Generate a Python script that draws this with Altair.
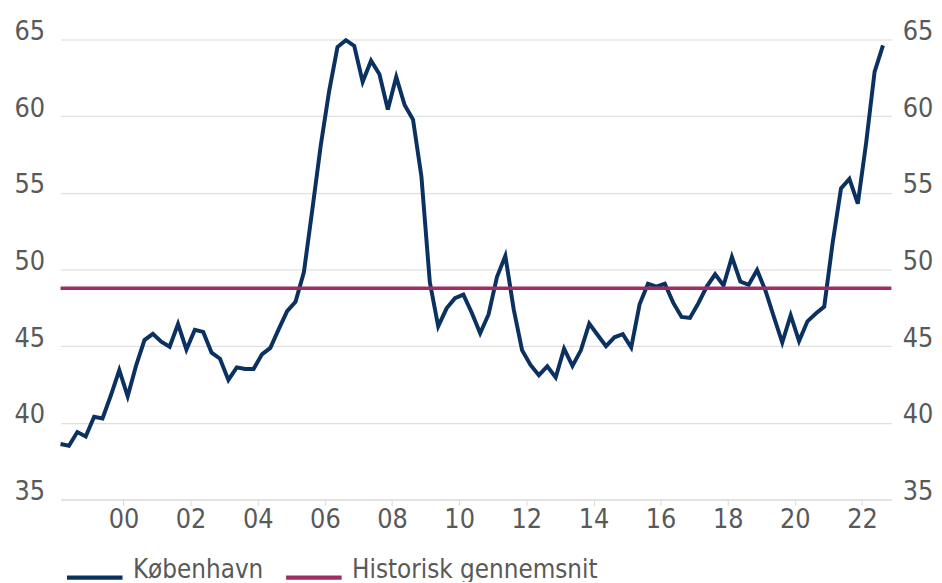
import altair as alt
import pandas as pd

# Quarterly series, first observation 1998 Q1, last 2022 Q3
start_year = 1998
values = [
    38.62, 38.51, 39.40, 39.11, 40.40, 40.29, 41.80, 43.44, 41.73, 43.73,
    45.40, 45.80, 45.29, 44.96, 46.44, 44.78, 46.07, 45.93, 44.58, 44.18,
    42.80, 43.62, 43.51, 43.51, 44.47, 44.89, 46.11, 47.29, 47.89, 49.84,
    53.90, 58.07, 61.62, 64.51, 64.96, 64.58, 62.24, 63.62, 62.73, 60.44,
    62.56, 60.73, 59.78, 56.07, 49.18, 46.29, 47.47, 48.13, 48.36, 47.18,
    45.84, 47.07, 49.51, 50.89, 47.40, 44.73, 43.78, 43.11, 43.69, 42.96,
    44.84, 43.71, 44.73, 46.47, 45.73, 45.00, 45.58, 45.78, 44.91, 47.73,
    49.07, 48.89, 49.07, 47.84, 46.91, 46.84, 47.80, 48.89, 49.69, 48.96,
    50.82, 49.22, 49.00, 49.96, 48.62, 46.91, 45.24, 47.02, 45.33, 46.62,
    47.13, 47.58, 51.73, 55.29, 55.91, 54.29, 58.29, 62.89, 64.62,
]
hist_avg = 48.78
x_ticks = list(range(2000, 2023, 2))
y_ticks = [35, 40, 45, 50, 55, 60, 65]
x_domain = [1998.125, 2022.875]
y_domain = [35, 65]
series_names = ["København", "Historisk gennemsnit"]
series_colors = ["#0B3161", "#9B2F64"]

n = len(values)
df = pd.DataFrame({
    "year": [start_year + i // 4 for i in range(n)],
    "q": [i % 4 + 1 for i in range(n)],
    "value": values,
})
df["t"] = df["year"] + (df["q"] - 0.5) / 4
df["series"] = series_names[0]

df_avg = pd.DataFrame({"value": [hist_avg], "series": [series_names[1]]})

FONT = "DejaVu Sans Condensed, Liberation Sans Narrow, Roboto, sans-serif"
LABEL = "#595959"
GRID = "#D9D9D9"

x_scale = alt.Scale(domain=x_domain, nice=False, zero=False)
y_scale = alt.Scale(domain=y_domain, nice=False, zero=False)
color_scale = alt.Scale(domain=series_names, range=series_colors)

legend = alt.Legend(
    title=None, orient="none", direction="horizontal",
    legendX=4, legendY=512, padding=0,
    symbolType="stroke", symbolSize=3136, symbolStrokeWidth=4.5,
    labelFont=FONT, labelFontSize=26, labelColor=LABEL, labelLimit=500,
    labelOffset=8, columnPadding=13, labelBaseline="alphabetic",
)

line = alt.Chart(df).mark_line(strokeWidth=4).encode(
    x=alt.X("t:Q", scale=x_scale, axis=alt.Axis(
        values=x_ticks, format="d", labelExpr="slice(datum.label, 2)",
        title=None, grid=False, domainColor=GRID, tickColor=GRID,
        tickSize=6, labelBaseline="top", labelPadding=1,
        labelFont=FONT, labelFontSize=27, labelColor=LABEL)),
    y=alt.Y("value:Q", scale=y_scale, axis=alt.Axis(
        orient="left", values=y_ticks, title=None, grid=True,
        gridColor=GRID, domain=False, ticks=False, labelPadding=16,
        labelBaseline="alphabetic", labelFont=FONT, labelFontSize=27,
        labelColor=LABEL)),
    color=alt.Color("series:N", scale=color_scale, legend=legend),
)

rule = alt.Chart(df_avg).mark_rule(strokeWidth=3.5).encode(
    y=alt.Y("value:Q", scale=y_scale, axis=alt.Axis(
        orient="right", values=y_ticks, title=None, grid=False,
        domain=False, ticks=False, labelPadding=11,
        labelBaseline="alphabetic", labelFont=FONT, labelFontSize=27,
        labelColor=LABEL)),
    color=alt.Color("series:N", scale=color_scale, legend=legend),
)

chart = alt.layer(line, rule).resolve_scale(y="independent").properties(
    width=838, height=464, autosize="none",
    padding={"left": 53, "top": 29.3, "right": 43, "bottom": 81},
).configure_view(stroke=None)

chart.save("out.html", embed_options={"renderer": "svg", "actions": False})
